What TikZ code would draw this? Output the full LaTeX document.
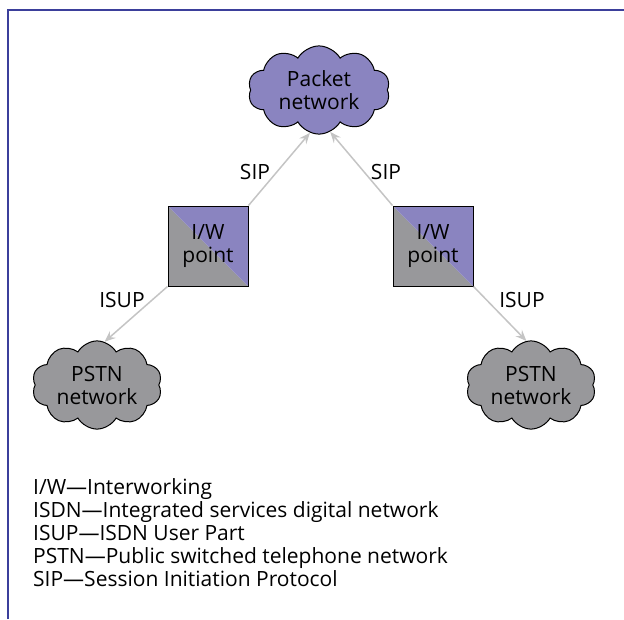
\documentclass[tikz,border=0pt]{standalone}
\usepackage{fontspec}
\setmainfont{Open Sans}
\usetikzlibrary{shapes.symbols,arrows.meta}

\definecolor{framec}{HTML}{3B3F9B}
\definecolor{netpurple}{HTML}{8A84C0}
\definecolor{netgray}{HTML}{98989B}
\definecolor{linkgray}{HTML}{C4C4C4}

\tikzset{
  txt/.style={font=\fontsize{21}{23}\selectfont},
  netcloud/.style={cloud, draw=black, line width=1pt, cloud puffs=10,
    cloud puff arc=120, aspect=1.6, inner sep=0pt, align=center, txt},
  iwbox/.style={draw=black, line width=1pt, minimum size=80pt, inner sep=0pt,
    align=center, txt,
    path picture={
      \fill[netgray] (path picture bounding box.north west) --
        (path picture bounding box.south west) --
        (path picture bounding box.south east) -- cycle;
      \fill[netpurple] (path picture bounding box.north west) --
        (path picture bounding box.north east) --
        (path picture bounding box.south east) -- cycle;}},
  link/.style={draw=linkgray, line width=1.5pt,
    -{Stealth[length=11pt,width=9pt,inset=4pt]}},
  lbl/.style={txt, inner sep=0pt},
  legend/.style={txt, anchor=base west, inner sep=0pt}
}

\begin{document}
\begin{tikzpicture}[x=1pt,y=-1pt]
\useasboundingbox (0,0) rectangle (624,619);

% page frame
\draw[framec, line width=2.3pt] (8.3,619) -- (8.3,10) -- (624,10);

% networks
\node[netcloud, fill=netpurple, minimum width=142pt, minimum height=86pt]
  (pkt) at (319,90) {Packet\\network};
\node[netcloud, fill=netgray, minimum width=130pt, minimum height=80pt]
  (pstnL) at (97,385) {PSTN\\network};
\node[netcloud, fill=netgray, minimum width=130pt, minimum height=80pt]
  (pstnR) at (531,385) {PSTN\\network};

% interworking points
\node[iwbox] (iwL) at (208,246) {I/W\\point};
\node[iwbox] (iwR) at (433,246) {I/W\\point};

% signalling links
\draw[link] (iwL.north east) -- (pkt.-102);
\draw[link] (iwR.north west) -- (pkt.-75);
\draw[link] (iwL.south west) -- (pstnL.80);
\draw[link] (iwR.south east) -- (pstnR.96);

\node[lbl] (sipL) at (255,172) {SIP};
\node[lbl] (sipR) at (386,172) {SIP};
\node[lbl] (isupL) at (122,300) {ISUP};
\node[lbl] (isupR) at (522,300) {ISUP};

% abbreviations
\node[legend] (leg1) at (33,494) {I/W—Interworking};
\node[legend] (leg2) at (33,517) {ISDN—Integrated services digital network};
\node[legend] (leg3) at (33,540) {ISUP—ISDN User Part};
\node[legend] (leg4) at (33,563) {PSTN—Public switched telephone network};
\node[legend] (leg5) at (33,586) {SIP—Session Initiation Protocol};
\end{tikzpicture}
\end{document}
